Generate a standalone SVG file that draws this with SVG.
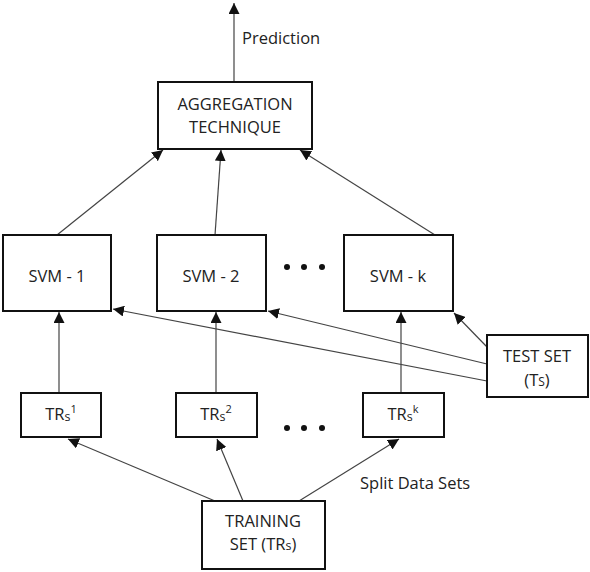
<svg xmlns="http://www.w3.org/2000/svg" width="590" height="572" viewBox="0 0 590 572">
<style>
.box{fill:#fff;stroke:#111;stroke-width:2}
.t{font-family:"Open Sans","Liberation Sans",Arial,sans-serif;font-size:16.5px;fill:#222;text-anchor:middle}
.lbl{font-family:"Open Sans","Liberation Sans",Arial,sans-serif;font-size:16.5px;fill:#222}
.c{stroke:#444;stroke-width:1.2;fill:none;marker-end:url(#ah)}
.dot{fill:#111}
</style>
<defs>
<marker id="ah" viewBox="0 0 10 10" refX="10" refY="5" markerWidth="11" markerHeight="11" markerUnits="userSpaceOnUse" orient="auto">
<path d="M0,0 L10,5 L0,10 z" fill="#111"/>
</marker>
</defs>
<g id="connectors">
<line class="c" x1="234" y1="82" x2="234" y2="3"/>
<line class="c" x1="57" y1="235" x2="163" y2="150"/>
<line class="c" x1="215" y1="235" x2="221" y2="150"/>
<line class="c" x1="435" y1="235" x2="300" y2="150"/>
<line class="c" x1="59" y1="393" x2="59" y2="312"/>
<line class="c" x1="216" y1="393" x2="216" y2="312"/>
<line class="c" x1="401" y1="393" x2="401" y2="312"/>
<line class="c" x1="487" y1="347" x2="454" y2="313"/>
<line class="c" x1="487" y1="364" x2="268" y2="311"/>
<line class="c" x1="487" y1="381" x2="113" y2="309"/>
<line class="c" x1="215" y1="501" x2="68" y2="439"/>
<line class="c" x1="243" y1="501" x2="217" y2="439"/>
<line class="c" x1="299" y1="501" x2="399" y2="439"/>
</g>
<text class="lbl" x="242" y="44">Prediction</text>
<text class="lbl" x="360" y="489">Split Data Sets</text>
<g id="agg">
<rect class="box" x="158" y="82" width="154" height="67"/>
<text class="t" x="235" y="110">AGGREGATION</text>
<text class="t" x="235" y="133">TECHNIQUE</text>
</g>
<g id="svm1">
<rect class="box" x="3" y="235" width="108" height="76"/>
<text class="t" x="57" y="282">SVM - 1</text>
</g>
<g id="svm2">
<rect class="box" x="157" y="235" width="109" height="76"/>
<text class="t" x="211" y="282">SVM - 2</text>
</g>
<g id="svmk">
<rect class="box" x="344" y="235" width="109" height="76"/>
<text class="t" x="398" y="282">SVM - k</text>
</g>
<g id="dots1">
<circle class="dot" cx="287" cy="267" r="3"/>
<circle class="dot" cx="304" cy="267" r="3"/>
<circle class="dot" cx="322" cy="267" r="3"/>
</g>
<g id="dots2">
<circle class="dot" cx="287" cy="428" r="3"/>
<circle class="dot" cx="304" cy="428" r="3"/>
<circle class="dot" cx="322" cy="428" r="3"/>
</g>
<g id="testset">
<rect class="box" x="487" y="335" width="101" height="62"/>
<text class="t" x="537" y="362">TEST SET</text>
<text class="t" x="537" y="386">(T<tspan font-size="12">S</tspan>)</text>
</g>
<g id="trs1">
<rect class="box" x="21" y="393" width="80" height="44"/>
<text class="t" x="61" y="420">TR<tspan font-size="12.5" dy="1">s</tspan><tspan font-size="11" dy="-8">1</tspan></text>
</g>
<g id="trs2">
<rect class="box" x="176" y="393" width="81" height="44"/>
<text class="t" x="216" y="420">TR<tspan font-size="12.5" dy="1">s</tspan><tspan font-size="11" dy="-8">2</tspan></text>
</g>
<g id="trsk">
<rect class="box" x="363" y="393" width="81" height="44"/>
<text class="t" x="403" y="420">TR<tspan font-size="12.5" dy="1">s</tspan><tspan font-size="11" dy="-8">k</tspan></text>
</g>
<g id="training">
<rect class="box" x="202" y="501" width="123" height="68"/>
<text class="t" x="263" y="527">TRAINING</text>
<text class="t" x="263" y="550">SET (TR<tspan font-size="12.5">s</tspan>)</text>
</g>
</svg>
